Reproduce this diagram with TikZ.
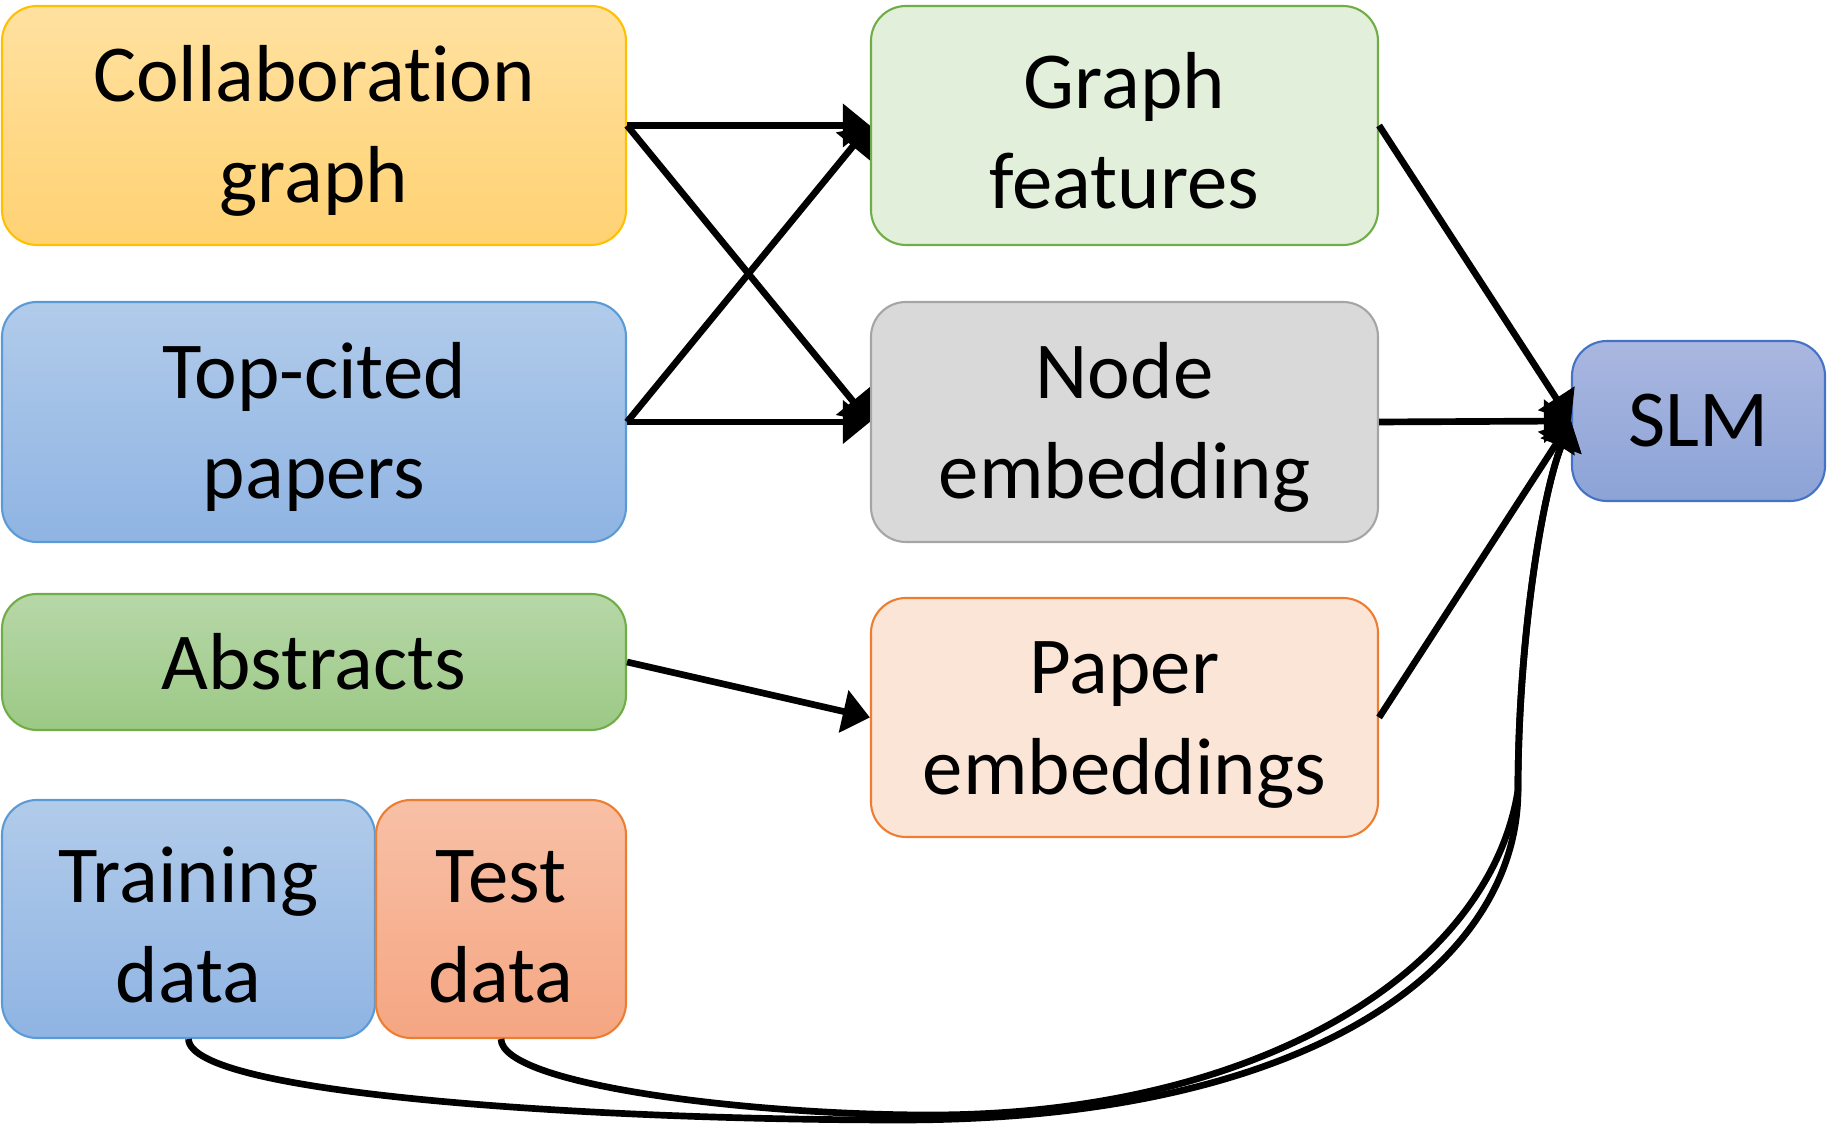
\documentclass[tikz,border=0pt]{standalone}
\usepackage{fontspec}
\setmainfont{Carlito}[Ligatures=NoCommon]
\usetikzlibrary{arrows.meta}

\definecolor{orgline}{HTML}{FFC000}
\definecolor{blueline}{HTML}{5B9BD5}
\definecolor{greenline}{HTML}{70AD47}
\definecolor{redline}{HTML}{ED7D31}
\definecolor{grayline}{HTML}{A5A5A5}
\definecolor{slmline}{HTML}{4472C4}
\newcommand{\topstrut}{\rule{0pt}{19pt}}

\begin{document}
\begin{tikzpicture}[
    box/.style={rounded corners=0.35cm, line width=0.6pt, align=center,
        font=\fontsize{23}{28.5}\selectfont, inner sep=0pt},
    arr/.style={-{Triangle[length=7.7pt,width=12pt]}, line width=1.9pt}]
    \useasboundingbox (0,0) rectangle (18.27,-11.27);

    % Input blocks
    \node[box, draw=orgline, top color={rgb,255:red,255;green,225;blue,160}, bottom color={rgb,255:red,255;green,210;blue,115},
        minimum width=6.24cm, minimum height=2.39cm] (collab) at (3.14,-1.255) {\topstrut Collaboration\\graph};
    \node[box, draw=blueline, top color={rgb,255:red,177;green,203;blue,234}, bottom color={rgb,255:red,143;green,180;blue,227},
        minimum width=6.24cm, minimum height=2.40cm] (topcited) at (3.14,-4.22) {\topstrut Top-cited\\papers};
    \node[box, draw=greenline, top color={rgb,255:red,183;green,215;blue,168}, bottom color={rgb,255:red,156;green,201;blue,133},
        minimum width=6.24cm, minimum height=1.36cm] (abstracts) at (3.14,-6.62) {Abstracts};
    \node[box, draw=blueline, top color={rgb,255:red,177;green,203;blue,234}, bottom color={rgb,255:red,143;green,180;blue,227},
        minimum width=3.73cm, minimum height=2.38cm] (train) at (1.885,-9.19) {\topstrut Training\\data};
    \node[box, draw=redline, top color={rgb,255:red,248;green,192;blue,166}, bottom color={rgb,255:red,245;green,166;blue,130},
        minimum width=2.50cm, minimum height=2.38cm] (test) at (5.01,-9.19) {\topstrut Test\\data};

    % Feature blocks
    \node[box, draw=greenline, fill={rgb,255:red,226;green,239;blue,218},
        minimum width=5.07cm, minimum height=2.39cm] (graphfeat) at (11.245,-1.255) {\topstrut Graph\\features};
    \node[box, draw=grayline, fill={rgb,255:red,217;green,217;blue,217},
        minimum width=5.07cm, minimum height=2.40cm] (nodeemb) at (11.245,-4.22) {\topstrut Node\\embedding};
    \node[box, draw=redline, fill={rgb,255:red,251;green,229;blue,214},
        minimum width=5.07cm, minimum height=2.39cm] (paperemb) at (11.245,-7.175) {\topstrut Paper\\embeddings};

    % Model
    \node[box, draw=slmline, top color={rgb,255:red,170;green,183;blue,224}, bottom color={rgb,255:red,140;green,163;blue,215},
        minimum width=2.53cm, minimum height=1.60cm] (slm) at (16.985,-4.21) {SLM};

    % Inputs to features
    \draw[arr] (collab.east) -- (graphfeat.west);
    \draw[arr] (collab.east) -- (nodeemb.west);
    \draw[arr] (topcited.east) -- (graphfeat.west);
    \draw[arr] (topcited.east) -- (nodeemb.west);
    \draw[arr] (abstracts.east) -- (paperemb.west);

    % Features to model
    \draw[arr] (graphfeat.east) -- (slm.west);
    \draw[arr] (nodeemb.east) -- (slm.west);
    \draw[arr] (paperemb.east) -- (slm.west);

    % Data to model
    \draw[arr] (train.south) .. controls (1.9,-10.95) and (6,-11.2) .. (9.0,-11.2)
        .. controls (13.2,-11.2) and (15.18,-9.6) .. (15.18,-7.9)
        .. controls (15.18,-6.5) and (15.4,-5) .. (slm.west);
    \draw[arr] (test.south) .. controls (5.02,-10.85) and (7.5,-11.15) .. (9.3,-11.15)
        .. controls (12.6,-11.15) and (14.9,-9.7) .. (15.18,-7.9)
        .. controls (15.18,-6.5) and (15.4,-5) .. (slm.west);
\end{tikzpicture}
\end{document}
